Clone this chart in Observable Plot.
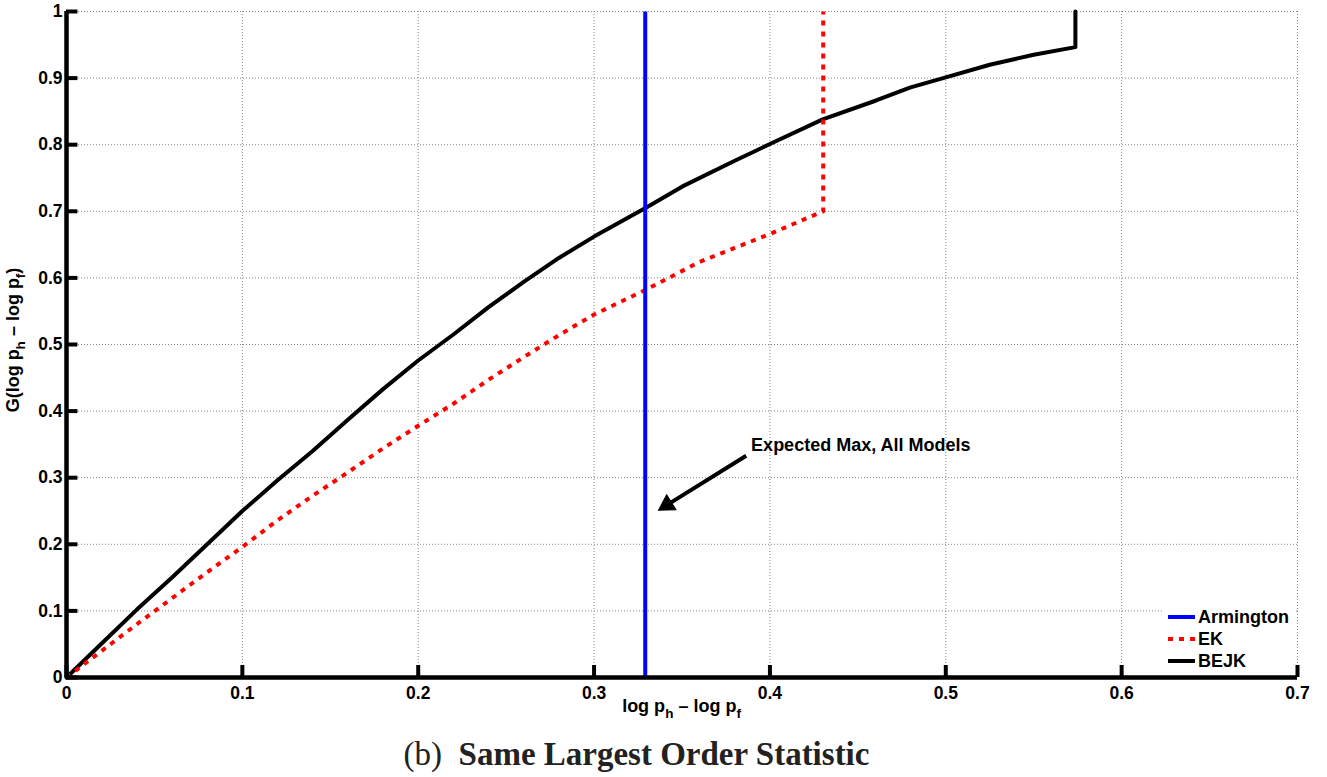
<!DOCTYPE html>
<html>
<head>
<meta charset="utf-8">
<script src="https://cdn.jsdelivr.net/npm/d3@7"></script>
<script src="https://cdn.jsdelivr.net/npm/@observablehq/plot@0.6"></script>
<style>
  html, body { margin: 0; padding: 0; background: #fff; }
  #chart svg { display: block; }
  #chart svg g[aria-label$="tick label"] { font-size: 17.5px; font-weight: bold; }
  #caption { text-align: center; font-family: "Liberation Serif", "Times New Roman", serif; font-size: 33px; line-height: 38px; margin-top: 5px; padding-right: 54px; color: #222; }
  #caption b { font-weight: bold; }
</style>
</head>
<body>
<div id="chart"></div>
<div id="caption">(b)&nbsp; <b>Same Largest Order Statistic</b></div>
<script>
// ---- data ----
const xTicks = [0, 0.1, 0.2, 0.3, 0.4, 0.5, 0.6, 0.7];
const yTicks = [0, 0.1, 0.2, 0.3, 0.4, 0.5, 0.6, 0.7, 0.8, 0.9, 1];

const armX = [0.3291, 0.3291];
const armY = [0, 1];

const ekX = [0, 0.02, 0.04, 0.06, 0.08, 0.10, 0.12, 0.14, 0.16, 0.18, 0.20, 0.22, 0.24, 0.26, 0.28, 0.30, 0.33, 0.36, 0.38, 0.40, 0.4303, 0.4303];
const ekY = [0, 0.040, 0.080, 0.119, 0.158, 0.196, 0.236, 0.273, 0.308, 0.344, 0.378, 0.411, 0.447, 0.481, 0.514, 0.545, 0.583, 0.624, 0.645, 0.666, 0.700, 1];

const bejkX = [0, 0.02, 0.04, 0.06, 0.08, 0.10, 0.12, 0.14, 0.16, 0.18, 0.20, 0.22, 0.24, 0.26, 0.28, 0.30, 0.33, 0.35, 0.38, 0.40, 0.43, 0.46, 0.48, 0.50, 0.525, 0.55, 0.5737, 0.5737];
const bejkY = [0, 0.051, 0.102, 0.150, 0.200, 0.250, 0.296, 0.340, 0.387, 0.433, 0.476, 0.515, 0.556, 0.594, 0.630, 0.662, 0.706, 0.737, 0.776, 0.801, 0.838, 0.866, 0.886, 0.901, 0.920, 0.935, 0.9465, 1];

const seriesNames = ["Armington", "EK", "BEJK"];
const seriesColors = ["#0000ff", "#ff0000", "#000000"];

const annText = ["Expected Max, All Models"];
const annX = [0.3893];
const annY = [0.348];
const arrowFrom = [[0.3865, 0.333]];
const arrowTo = [[0.3381, 0.2535]];

// ---- chart ----
const toRows = (xs, ys) => xs.map((x, i) => ({x, y: ys[i]}));
const font = "'Liberation Sans', Arial, Helvetica, sans-serif";
const fmt = d3.format("~g");
const arrows = arrowFrom.map((f, i) => ({x1: f[0], y1: f[1], x2: arrowTo[i][0], y2: arrowTo[i][1]}));
const lerp = (a, b, t) => a + (b - a) * t;

const chart = Plot.plot({
  width: 1327,
  height: 730,
  marginLeft: 66,
  marginRight: 30,
  marginTop: 11,
  marginBottom: 53,
  style: {fontFamily: font, fontWeight: "bold", fontSize: "17.5px", color: "#000", background: "#fff"},
  x: {domain: [0, 0.7]},
  y: {domain: [0, 1]},
  marks: [
    Plot.ruleX(xTicks, {stroke: "#888", strokeWidth: 1, strokeDasharray: "1,2"}),
    Plot.ruleY(yTicks, {stroke: "#888", strokeWidth: 1, strokeDasharray: "1,2"}),
    Plot.axisX(xTicks, {tickSize: 0, tickPadding: 9, tickFormat: fmt, label: null, fontSize: 17.5, fontWeight: "bold"}),
    Plot.axisY(yTicks, {tickSize: 0, tickPadding: 4, tickFormat: fmt, label: null, fontSize: 17.5, fontWeight: "bold"}),
    Plot.line(toRows(bejkX, bejkY), {x: "x", y: "y", stroke: seriesColors[2], strokeWidth: 4, strokeLinejoin: "round"}),
    Plot.line(toRows(ekX, ekY), {x: "x", y: "y", stroke: seriesColors[1], strokeWidth: 4, strokeDasharray: "5,6", strokeLinecap: "butt"}),
    Plot.line(toRows(armX, armY), {x: "x", y: "y", stroke: seriesColors[0], strokeWidth: 4, strokeLinecap: "butt"}),
    Plot.link(arrows, {x1: "x1", y1: "y1", x2: d => lerp(d.x1, d.x2, 0.9), y2: d => lerp(d.y1, d.y2, 0.9), stroke: "#000", strokeWidth: 4}),
    Plot.dot(arrows, {x: d => lerp(d.x1, d.x2, 0.93), y: d => lerp(d.y1, d.y2, 0.93), symbol: "triangle", r: 6.5, fill: "#000", stroke: "#000", strokeWidth: 1, rotate: 238}),
    Plot.text(annText, {x: annX, y: annY, text: d => d, textAnchor: "start", fontSize: 18, fontWeight: "bold", fill: "#000"}),
    Plot.ruleX(xTicks, {y1: 0, y2: 0.018, stroke: "#000", strokeWidth: 4}),
    Plot.ruleY(yTicks, {x1: 0, x2: 0.0065, stroke: "#000", strokeWidth: 4}),
    Plot.ruleY([0], {stroke: "#000", strokeWidth: 4.5}),
    Plot.ruleX([0], {stroke: "#000", strokeWidth: 4.5})
  ]
});

document.getElementById("chart").appendChild(chart);

// ---- axis labels and legend ----
const sx = chart.scale("x"), sy = chart.scale("y");
const svg = d3.select(chart);
const x0 = sx.apply(0), x1 = sx.apply(0.7), y0 = sy.apply(0), y1 = sy.apply(1);

function subLabel(sel, parts) {
  parts.forEach(([t, sub]) => {
    const ts = sel.append("tspan").text(t);
    if (sub) ts.attr("dy", 6).style("font-size", "13.5px");
    else ts.attr("dy", sel.node().childNodes.length > 1 ? -6 : 0);
  });
}

const xl = svg.append("text")
  .attr("x", (x0 + x1) / 2).attr("y", y0 + 35)
  .attr("text-anchor", "middle")
  .style("font-size", "18px").style("font-weight", "bold").attr("fill", "#000");
subLabel(xl, [["log p"], ["h", true], [" \u2013 log p"], ["f", true]]);

const yl = svg.append("text")
  .attr("transform", `translate(19,${(y0 + y1) / 2 - 4}) rotate(-90)`)
  .attr("text-anchor", "middle")
  .style("font-size", "18px").style("font-weight", "bold").attr("fill", "#000");
subLabel(yl, [["G(log p"], ["h", true], [" \u2013 log p"], ["f", true], [")"]]);

// legend box in lower right
const lg = svg.append("g").attr("transform", `translate(${x1 - 134},${y0 - 73})`);
lg.append("rect").attr("x", 0).attr("y", 0).attr("width", 132).attr("height", 70).attr("fill", "#fff");
seriesNames.forEach((name, i) => {
  const yy = 13 + i * 22;
  lg.append("line").attr("x1", 5).attr("x2", 32).attr("y1", yy).attr("y2", yy)
    .attr("stroke", seriesColors[i]).attr("stroke-width", 4)
    .attr("stroke-dasharray", name === "EK" ? "5,6" : null);
  lg.append("text").attr("x", 35).attr("y", yy).attr("dy", "0.36em")
    .attr("text-anchor", "start")
    .style("font-size", "18px").style("font-weight", "bold").attr("fill", "#000").text(name);
});
</script>
</body>
</html>
